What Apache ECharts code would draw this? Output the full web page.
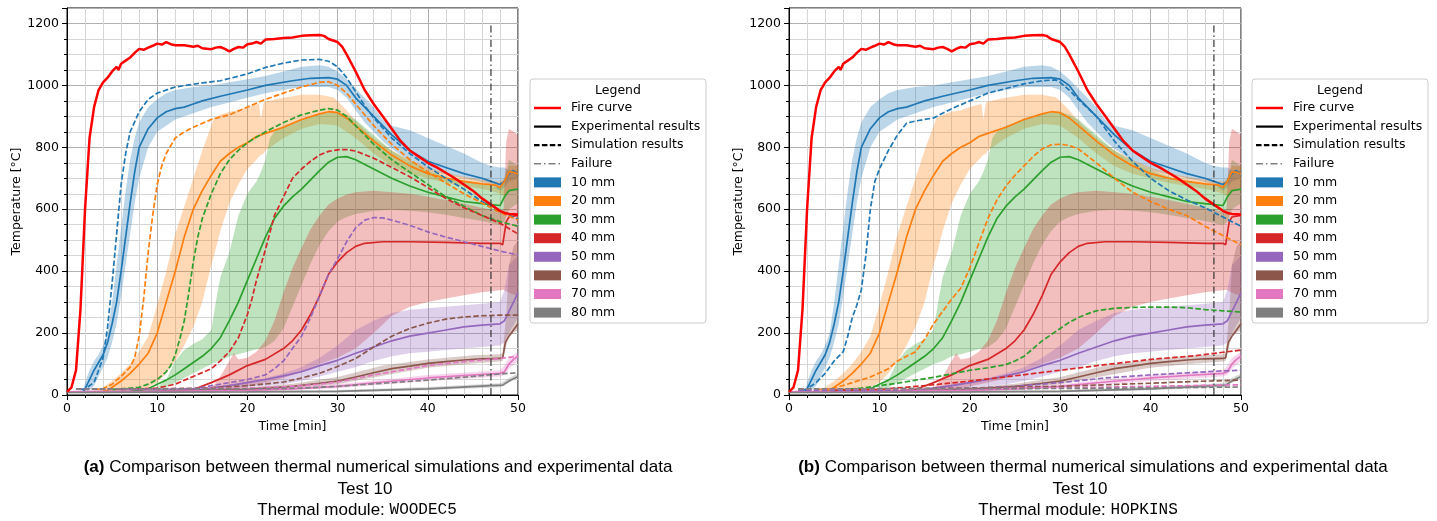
<!DOCTYPE html>
<html>
<head>
<meta charset="utf-8">
<script src="https://cdn.jsdelivr.net/npm/echarts@6/dist/echarts.min.js"></script>
<style>
  html, body { margin: 0; padding: 0; background: #fff; }
  #chart { width: 1437px; height: 521px; }
</style>
</head>
<body>
<div id="chart"></div>
<script>
// ---- data: [time (min), temperature (°C)] ----
const fire = [[0,10],[0.5,25],[1,80],[1.5,280],[2,600],[2.5,830],[3,930],[3.5,985],[4,1010],[4.5,1025],[5,1045],[5.5,1060],[5.7,1050],[6,1070],[6.5,1080],[7,1090],[7.5,1105],[8,1118],[8.5,1115],[9,1122],[9.5,1128],[10,1135],[10.5,1132],[11,1140],[11.5,1133],[12,1130],[13,1130],[14,1125],[14.5,1128],[15,1120],[16,1117],[16.5,1122],[17,1124],[17.5,1118],[18,1110],[18.5,1118],[19,1124],[19.5,1122],[20,1133],[20.5,1135],[21,1140],[21.5,1135],[22,1148],[23,1150],[24,1153],[25,1155],[26,1160],[27,1162],[28,1163],[28.5,1160],[29,1150],[30,1140],[30.5,1125],[31,1100],[32,1045],[33,985],[34,940],[35,900],[36,860],[37,820],[38,790],[39,770],[40,750],[41,735],[42,718],[43,700],[44,680],[45,660],[46,635],[47,615],[48,595],[48.5,588],[49,585],[50,583]];

// experimental mean curves
const exp10 = [[1.8,12],[2,20],[3,80],[4,130],[4.5,170],[5,230],[5.5,300],[6,400],[6.5,510],[7,620],[7.5,720],[8,800],[9,860],[10,895],[11,915],[12,925],[13,930],[14,940],[15,950],[17,965],[20,985],[22,1000],[25,1015],[27,1023],[29,1025],[30,1020],[31,1000],[32,960],[34,900],[36,840],[38,790],[40,755],[42,735],[44,715],[46,700],[47,690],[48,680],[48.5,690],[49,715],[49.5,725],[50,710]];
const exp20 = [[4,12],[4.5,15],[5,25],[6,45],[7,70],[8,100],[9,135],[10,200],[11,300],[12,400],[13,510],[14,600],[15,660],[16,710],[17,755],[18,780],[19,800],[20,815],[21,835],[22,845],[24,865],[26,890],[28,908],[29,915],[30,912],[31,895],[32,870],[34,820],[36,775],[38,740],[40,715],[42,700],[44,690],[46,682],[47.5,678],[48,670],[48.5,690],[49,720],[49.5,720],[50,712]];
const exp30 = [[7,12],[8,15],[9,20],[10,35],[11,48],[12,65],[13,85],[14,105],[15,125],[16,150],[17,185],[18,240],[19,300],[20,370],[21,440],[22,510],[23,570],[24,610],[25,640],[26,665],[27,695],[28,725],[29,752],[30,768],[31,770],[32,760],[34,730],[36,700],[38,675],[40,655],[42,640],[44,625],[46,618],[48,612],[48.5,640],[49,660],[50,665]];
const exp40 = [[10,10],[12,12],[14,18],[16,40],[18,65],[20,95],[22,115],[24,150],[25,175],[26,210],[27,260],[28,320],[29,390],[30,430],[31,460],[32,480],[33,490],[35,495],[38,495],[42,493],[46,490],[48,490],[48.3,485],[48.7,560],[49,575],[50,580]];
const exp50 = [[10,10],[14,15],[16,22],[18,30],[20,40],[22,50],[24,62],[26,75],[28,95],[30,112],[32,135],[34,155],[36,175],[38,190],[40,200],[42,210],[44,220],[46,226],[48,230],[48.5,240],[49,270],[49.5,300],[50,330]];
const exp60 = [[0,10],[10,12],[20,18],[25,28],[28,38],[30,45],[32,58],[34,72],[36,85],[38,93],[40,102],[42,108],[44,113],[46,117],[48,118],[48.3,120],[48.6,170],[49,190],[49.5,210],[50,230]];
const exp70 = [[0,10],[10,12],[20,15],[25,20],[30,28],[35,42],[40,55],[44,63],[48,70],[48.5,75],[49,100],[49.5,115],[50,125]];
const exp80 = [[0,8],[20,10],[30,12],[40,20],[47,30],[48.3,32],[49,45],[50,60]];

// experimental scatter bands: [time, low, high]
const band10 = [[1.8,8,14],[2,10,40],[2.5,15,80],[3,30,110],[3.5,60,130],[4,90,160],[4.5,120,200],[5,170,300],[5.5,230,420],[6,320,540],[6.5,420,660],[7,520,760],[7.5,620,830],[8,700,880],[9,800,930],[10,850,955],[11,870,975],[12,890,985],[14,910,995],[16,930,1000],[18,945,1010],[20,960,1020],[22,975,1030],[24,985,1045],[26,995,1060],[28,995,1065],[29,995,1060],[30,985,1045],[31,960,1020],[32,920,990],[33,880,960],[34,850,930],[35,820,890],[36,795,870],[38,755,855],[40,725,830],[42,712,805],[44,700,780],[46,688,750],[47,680,740],[48,660,735],[48.5,670,735],[49,690,725],[50,700,725]];
const band20 = [[3.5,10,15],[4,10,25],[5,12,45],[6,13,70],[7,15,100],[8,20,140],[9,25,190],[10,40,290],[11,70,400],[12,110,520],[13,160,610],[14,220,700],[15,300,790],[16,420,870],[16.3,450,895],[17,530,905],[18,620,915],[19,680,920],[20,730,930],[21,760,938],[21.3,770,940],[21.5,775,890],[21.8,780,945],[22,790,948],[24,830,960],[26,860,970],[28,875,970],[29.5,872,962],[30,870,950],[31,850,920],[32,830,885],[34,780,830],[36,740,790],[38,715,760],[40,700,735],[42,685,718],[44,675,705],[46,665,695],[47,660,692],[48,650,690],[48.5,640,700],[49,660,740],[50,670,740]];
const band30 = [[9,10,15],[10,15,25],[11,25,50],[12,40,110],[13,55,145],[14,70,165],[15,85,180],[16,100,210],[16.5,105,300],[17,110,380],[18,125,460],[19,132,580],[20,140,650],[21,148,690],[21.5,150,720],[22,155,760],[22.5,165,830],[23,175,850],[24,215,870],[25,285,880],[26,355,890],[27,425,900],[28,485,910],[29,530,913],[30,560,915],[31,575,905],[32,585,890],[34,595,840],[36,598,790],[38,595,755],[40,590,725],[42,582,705],[44,572,690],[46,562,680],[48,548,670],[48.5,560,700],[49,600,760],[50,620,740]];
const band40 = [[15,8,10],[16,12,20],[17,15,60],[18,18,110],[18.5,19,135],[19,22,115],[20,28,120],[21,34,140],[22,40,175],[23,47,240],[24,55,330],[25,65,410],[26,75,475],[27,88,535],[28,100,580],[29,110,615],[30,120,635],[31,135,648],[32,150,655],[34,200,660],[36,255,655],[38,285,650],[40,300,640],[42,312,630],[44,322,618],[46,332,605],[48,338,592],[48.4,340,600],[48.7,335,820],[49,330,860],[49.5,325,850],[50,320,840]];
const band50 = [[14,10,18],[18,18,35],[20,25,45],[22,30,55],[24,35,70],[26,45,90],[28,60,120],[30,75,160],[32,90,210],[34,110,240],[36,125,265],[38,135,275],[40,140,280],[42,145,285],[44,150,290],[46,155,295],[48,160,300],[48.5,170,340],[49,200,420],[50,250,450]];
const band60 = [[5,8,14],[15,10,18],[20,14,24],[25,22,36],[30,35,58],[35,62,95],[40,88,115],[45,102,128],[48,108,132],[48.3,110,135],[48.7,160,260],[49,190,420],[49.5,200,480],[50,210,500]];
const band70 = [[0,8,14],[20,12,20],[30,22,35],[40,45,65],[48,60,80],[48.5,65,95],[49,85,120],[50,110,140]];
const band80 = [[0,6,12],[30,8,16],[40,15,26],[48,25,38],[48.5,30,45],[49,40,55],[50,55,70]];

// simulation results, thermal module WOODEC5 (panel a)
const simA10 = [[1.5,18],[2,20],[3,40],[4,120],[4.5,220],[5,360],[5.5,520],[6,680],[6.5,780],[7,850],[8,915],[9,955],[10,975],[12,995],[15,1008],[17,1015],[20,1037],[22,1058],[24,1072],[26,1082],[28,1084],[29,1078],[30,1060],[31,1025],[32,980],[33,935],[34,895],[36,830],[38,780],[40,737],[42,700],[44,665],[46,625],[47,605],[48,592],[50,568]];
const simA20 = [[3,18],[4,20],[5,35],[6,60],[7,90],[7.5,120],[8,190],[8.5,310],[9,460],[9.5,580],[10,680],[10.5,740],[11,780],[12,830],[13,850],[14,865],[16,890],[18,905],[20,930],[22,955],[24,975],[26,995],[28,1010],[29,1012],[30,1000],[31,975],[32,940],[34,870],[36,810],[38,760],[40,720],[42,685],[44,650],[46,620],[48,590],[50,565]];
const simA30 = [[5,18],[6,20],[8,25],[9,35],[10,50],[11,75],[11.5,95],[12,130],[12.5,180],[13,240],[13.5,330],[14,430],[14.5,510],[15,570],[16,650],[17,715],[18,760],[19,790],[20,815],[22,850],[24,880],[26,905],[28,920],[29,925],[30,920],[31,900],[32,870],[34,810],[36,760],[38,720],[40,680],[42,640],[44,610],[46,580],[48,560],[50,545]];
const simA40 = [[6,18],[8,20],[10,22],[12,35],[14,60],[16,85],[17,110],[18,140],[19,185],[20,260],[20.5,310],[21,370],[21.5,420],[22,470],[23,580],[24,640],[25,700],[26,730],[27,755],[28,775],[29,787],[30,792],[31,793],[32,788],[34,765],[36,735],[38,705],[40,670],[42,635],[44,605],[46,580],[48,555],[50,520]];
const simA50 = [[6,18],[10,18],[14,20],[16,30],[18,40],[20,50],[22,65],[23,85],[24,110],[25,150],[26,190],[27,250],[28,320],[29,390],[30,440],[31,495],[32,540],[33,565],[34,573],[35,572],[36,565],[38,548],[40,527],[42,510],[44,495],[46,480],[48,465],[50,452]];
const simA60 = [[1,20],[10,20],[15,22],[20,30],[24,42],[26,55],[28,70],[30,92],[32,118],[34,155],[36,190],[38,215],[40,232],[42,245],[44,252],[46,256],[48,258],[50,258]];
const simA70 = [[1,20],[10,20],[20,22],[25,28],[28,35],[30,42],[35,70],[40,95],[44,108],[48,118],[50,125]];
const simA80 = [[1,20],[20,20],[26,22],[30,28],[35,38],[40,48],[45,60],[48,68],[50,72]];

// simulation results, thermal module HOPKINS (panel b)
const simB10 = [[1.5,15],[2,20],[3,40],[4,70],[5,110],[6,140],[6.5,190],[7,250],[7.5,290],[8,340],[8.5,450],[9,600],[9.5,690],[10,730],[11,790],[12,840],[13,878],[14,885],[16,895],[18,925],[20,950],[22,975],[24,990],[26,1005],[28,1015],[29.5,1018],[30,1010],[31,985],[32,955],[34,900],[36,820],[38,755],[40,700],[42,660],[44,630],[46,605],[48,575],[50,545]];
const simB20 = [[3,18],[4,18],[5,22],[7,40],[9,58],[11,85],[12,110],[13,125],[14,140],[15,180],[16,230],[17,270],[18,310],[19,345],[20,410],[21,490],[22,570],[23,630],[24,675],[25,710],[26,740],[27,770],[28,795],[29,808],[30,810],[31,806],[32,795],[34,750],[36,700],[38,655],[40,625],[42,600],[44,580],[46,545],[48,515],[50,485]];
const simB30 = [[5,15],[8,22],[10,30],[12,38],[14,48],[16,57],[18,68],[20,80],[22,88],[24,98],[25,110],[26,125],[27,150],[28,175],[29,195],[30,215],[31,235],[32,250],[33,262],[34,272],[36,280],[38,283],[40,284],[42,284],[44,282],[46,276],[48,272],[50,268]];
const simB40 = [[5,15],[10,18],[15,30],[20,45],[25,62],[30,80],[35,98],[40,115],[45,127],[48,138],[50,145]];
const simB50 = [[1,15],[10,15],[20,22],[25,28],[30,40],[35,55],[40,65],[45,73],[48,78],[50,80]];
const simB60 = [[1,20],[10,20],[20,22],[30,28],[40,38],[45,44],[50,48]];
const simB70 = [[1,20],[20,20],[30,23],[40,28],[50,33]];
const simB80 = [[1,20],[30,21],[40,23],[50,26]];

const failureTime = 47;
const depths = ['10 mm', '20 mm', '30 mm', '40 mm', '50 mm', '60 mm', '70 mm', '80 mm'];
const colors = ['#1f77b4', '#ff7f0e', '#2ca02c', '#d62728', '#9467bd', '#8c564b', '#e377c2', '#7f7f7f'];
const bands = [band10, band20, band30, band40, band50, band60, band70, band80];
const exps = [exp10, exp20, exp30, exp40, exp50, exp60, exp70, exp80];
const simsA = [simA10, simA20, simA30, simA40, simA50, simA60, simA70, simA80];
const simsB = [simB10, simB20, simB30, simB40, simB50, simB60, simB70, simB80];

const FONT = 'DejaVu Sans';
const chart = echarts.init(document.getElementById('chart'), null, {renderer: 'canvas'});

function bandSeries(data, color, gi) {
  return {
    type: 'custom', xAxisIndex: gi, yAxisIndex: gi, silent: true, clip: true,
    data: [[data[0][0], data[0][1]]],
    encode: {x: 0, y: 1},
    renderItem: function (params, api) {
      const pts = [];
      data.forEach(d => pts.push(api.coord([d[0], d[2]])));
      for (let i = data.length - 1; i >= 0; i--) pts.push(api.coord([data[i][0], data[i][1]]));
      return {type: 'polygon', shape: {points: pts}, style: {fill: color, opacity: 0.3}};
    }
  };
}

function lineSeries(data, color, gi, dashed, width) {
  return {
    type: 'line', xAxisIndex: gi, yAxisIndex: gi, data: data, silent: true,
    showSymbol: false, symbol: 'none', clip: true,
    lineStyle: {color: color, width: width || 1.7, type: dashed ? [5.5, 2.4] : 'solid'}
  };
}

const series = [];
[simsA, simsB].forEach((sims, gi) => {
  bands.forEach((b, i) => series.push(bandSeries(b, colors[i], gi)));
  exps.forEach((e, i) => series.push(lineSeries(e, colors[i], gi, false)));
  sims.forEach((s, i) => series.push(lineSeries(s, colors[i], gi, true)));
  series.push(lineSeries(fire, '#ff0000', gi, false, 2.5));
  series.push({
    type: 'line', xAxisIndex: gi, yAxisIndex: gi, silent: true, showSymbol: false, symbol: 'none',
    data: [[failureTime, 0], [failureTime, 1200]],
    lineStyle: {color: '#333333', opacity: 0.8, width: 1.5, type: [7, 3, 1.5, 3]}
  });
});

function xAxis(gi) {
  return {
    type: 'value', gridIndex: gi, min: 0, max: 50, interval: 10,
    name: 'Time [min]', nameLocation: 'middle', nameGap: 23,
    nameTextStyle: {fontFamily: FONT, fontSize: 12.5, color: '#000'},
    axisLine: {show: true, onZero: false, lineStyle: {color: '#000', width: 1}},
    axisTick: {show: true, length: 5, lineStyle: {color: '#000'}},
    minorTick: {show: true, splitNumber: 5, length: 3, lineStyle: {color: '#000'}},
    axisLabel: {fontFamily: FONT, fontSize: 12.5, color: '#000', margin: 7},
    splitLine: {show: true, lineStyle: {color: '#b0b0b0', width: 1}},
    minorSplitLine: {show: true, lineStyle: {color: '#d6d6d6', width: 1}}
  };
}
function yAxis(gi) {
  return {
    type: 'value', gridIndex: gi, min: 0, max: 1250, interval: 200,
    name: 'Temperature [°C]', nameLocation: 'middle', nameGap: 43, nameRotate: 90,
    nameTextStyle: {fontFamily: FONT, fontSize: 12.5, color: '#000'},
    axisLine: {show: true, lineStyle: {color: '#000', width: 1}},
    axisTick: {show: true, length: 5, lineStyle: {color: '#000'}},
    minorTick: {show: true, splitNumber: 4, length: 3, lineStyle: {color: '#000'}},
    axisLabel: {fontFamily: FONT, fontSize: 12.5, color: '#000', margin: 8, showMaxLabel: false,
      formatter: v => String(v)},
    splitLine: {show: true, lineStyle: {color: '#b0b0b0', width: 1}},
    minorSplitLine: {show: true, lineStyle: {color: '#d6d6d6', width: 1}}
  };
}

// legend (drawn as graphic so the entries match the reference)
function legend(x0) {
  const els = [];
  const y0 = 79;
  els.push({type: 'rect', shape: {x: x0, y: y0, width: 176, height: 244, r: 3},
    style: {fill: 'rgba(255,255,255,0.85)', stroke: '#cccccc', lineWidth: 1}, z: 100});
  els.push({type: 'text', x: x0 + 88, y: y0 + 12, z: 101,
    style: {text: 'Legend', fontFamily: FONT, fontSize: 12.5, fill: '#000', align: 'center', verticalAlign: 'middle'}});
  const rows = [
    {label: 'Fire curve', kind: 'line', color: '#ff0000', dash: null, w: 2.5},
    {label: 'Experimental results', kind: 'line', color: '#000', dash: null, w: 2.2},
    {label: 'Simulation results', kind: 'line', color: '#000', dash: [5.5, 2.4], w: 2.2},
    {label: 'Failure', kind: 'line', color: '#808080', dash: [7, 3, 1.5, 3], w: 1.5}
  ];
  depths.forEach((d, i) => rows.push({label: d, kind: 'patch', color: colors[i]}));
  rows.forEach((r, i) => {
    const cy = y0 + 29 + i * 18.6;
    if (r.kind === 'line') {
      els.push({type: 'line', z: 101, shape: {x1: x0 + 4, y1: cy, x2: x0 + 31, y2: cy},
        style: {stroke: r.color, lineWidth: r.w, lineDash: r.dash}});
    } else {
      els.push({type: 'rect', z: 101, shape: {x: x0 + 4, y: cy - 5, width: 27, height: 10},
        style: {fill: r.color}});
    }
    els.push({type: 'text', z: 101, x: x0 + 41, y: cy,
      style: {text: r.label, fontFamily: FONT, fontSize: 12.5, fill: '#000', verticalAlign: 'middle'}});
  });
  return els;
}

function caption(cx, tag, module) {
  const base = {fontFamily: 'Liberation Sans', fontSize: 17, fill: '#000', align: 'center', verticalAlign: 'middle'};
  return [
    {type: 'text', x: cx[0], y: 467, style: Object.assign({}, base, {
      text: '{b|(' + tag + ')} Comparison between thermal numerical simulations and experimental data',
      rich: {b: {fontFamily: 'Liberation Sans', fontSize: 17, fontWeight: 'bold'}}})},
    {type: 'text', x: cx[1], y: 489, style: Object.assign({}, base, {text: 'Test 10'})},
    {type: 'text', x: cx[2], y: 510, style: Object.assign({}, base, {
      text: 'Thermal module: {m|' + module + '}',
      rich: {m: {fontFamily: 'Liberation Mono', fontSize: 16}}})}
  ];
}

const option = {
  animation: false,
  backgroundColor: '#fff',
  grid: [
    {left: 67, top: 8, width: 451, height: 387, show: true, borderColor: '#000', borderWidth: 1, backgroundColor: 'transparent'},
    {left: 789, top: 8, width: 452, height: 387, show: true, borderColor: '#000', borderWidth: 1, backgroundColor: 'transparent'}
  ],
  xAxis: [xAxis(0), xAxis(1)],
  yAxis: [yAxis(0), yAxis(1)],
  series: series,
  graphic: [].concat(legend(530), legend(1252),
    caption([378, 365, 357], 'a', 'WOODEC5'),
    caption([1093, 1080, 1078], 'b', 'HOPKINS'))
};
chart.setOption(option);
</script>
</body>
</html>
